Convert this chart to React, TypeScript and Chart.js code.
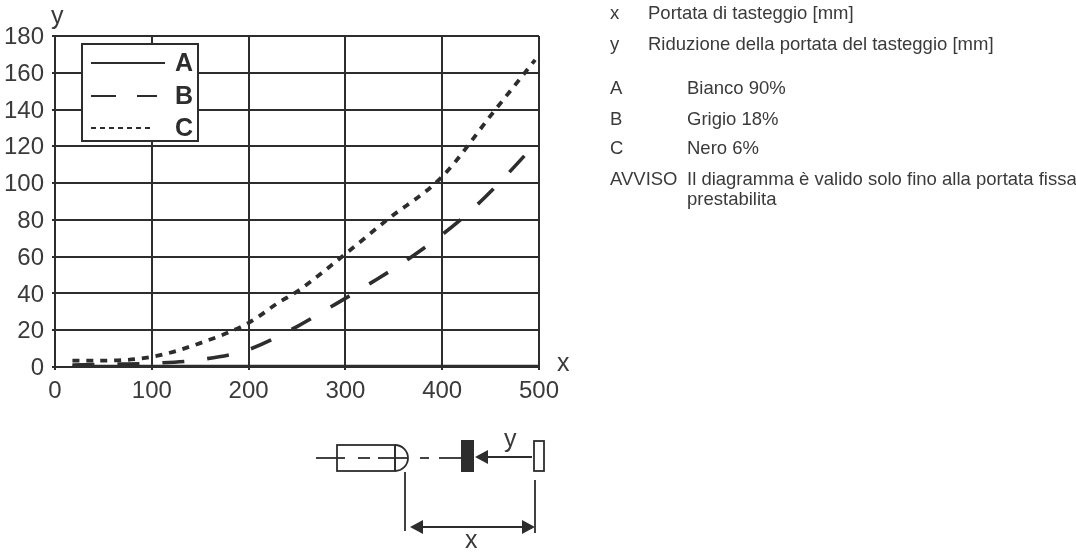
import React, { useEffect, useRef } from "react";
import { Chart, registerables } from "chart.js";

Chart.register(...registerables);

const xA = [18, 100, 200, 300, 400, 500];
const yA = [0.2, 0.2, 0.2, 0.2, 0.2, 0.2];
const xB = [18, 50, 100, 150, 200, 250, 286, 326, 367, 421, 455, 487];
const yB = [1, 1.5, 2, 4, 9.5, 22, 33, 45.6, 59.4, 81, 98, 116];
const xC = [18, 50, 100, 150, 200, 232, 250, 300, 343, 400, 452, 496];
const yC = [3.5, 3.5, 5.5, 13, 24, 35.4, 41, 61.5, 80, 103.5, 138, 167];
const xTicks = [0, 100, 200, 300, 400, 500];
const yTicks = [0, 20, 40, 60, 80, 100, 120, 140, 160, 180];
const seriesNames = ["A", "B", "C"];
const notesTop = [
  ["x", "Portata di tasteggio [mm]"],
  ["y", "Riduzione della portata del tasteggio [mm]"],
];
const notesKey = [
  ["A", "Bianco 90%"],
  ["B", "Grigio 18%"],
  ["C", "Nero 6%"],
  ["AVVISO", "Il diagramma è valido solo fino alla portata fissa"],
  ["", "prestabilita"],
];

const INK = "#2d2d2d";
const TEXT = "#3a3a3a";
const FONT = '"Liberation Sans", Arial, sans-serif';

const pair = (xs: number[], ys: number[]) => xs.map((x, i) => ({ x, y: ys[i] }));

const decor = {
  id: "decor",
  afterDraw(chart: any) {
    const c = chart.ctx as CanvasRenderingContext2D;
    c.save();
    c.lineCap = "butt";
    c.textBaseline = "alphabetic";

    // axis letters
    c.fillStyle = TEXT;
    c.font = `25px ${FONT}`;
    c.textAlign = "left";
    c.fillText("y", 51, 24);
    c.fillText("x", 557, 371);

    // legend box
    c.fillStyle = "#fff";
    c.fillRect(82, 44, 116, 97);
    c.strokeStyle = INK;
    c.lineWidth = 2;
    c.strokeRect(82, 44, 116, 97);
    const rows = [63, 96, 128];
    const dashes = [[], [25, 21, 21, 0], [5, 4]];
    const ends = [165, 157, 153];
    c.lineWidth = 1.8;
    rows.forEach((y, i) => {
      c.beginPath();
      c.setLineDash(dashes[i]);
      c.moveTo(91, y);
      c.lineTo(ends[i], y);
      c.stroke();
    });
    c.setLineDash([]);
    c.fillStyle = INK;
    c.font = `bold 25px ${FONT}`;
    seriesNames.forEach((n, i) => c.fillText(n, 175, rows[i] + 8));

    // notes
    c.fillStyle = TEXT;
    c.font = `18.5px ${FONT}`;
    notesTop.forEach(([k, v], i) => {
      const y = [19, 50][i];
      c.fillText(k, 610, y);
      c.fillText(v, 648, y);
    });
    notesKey.forEach(([k, v], i) => {
      const y = [94, 125, 154, 185, 205][i];
      c.fillText(k, 610, y);
      c.fillText(v, 687, y);
    });

    // sensor sketch
    c.strokeStyle = INK;
    c.fillStyle = INK;
    c.lineWidth = 1.8;
    c.strokeRect(337, 445, 58, 26);
    c.beginPath();
    c.arc(395, 458, 13, -Math.PI / 2, Math.PI / 2);
    c.stroke();
    const seg = (x1: number, y1: number, x2: number, y2: number) => {
      c.beginPath();
      c.moveTo(x1, y1);
      c.lineTo(x2, y2);
      c.stroke();
    };
    [[316, 345], [358, 370], [378, 408], [420, 429], [439, 461]].forEach(([a, b]) => seg(a, 458, b, 458));
    seg(395, 445, 395, 471);
    c.fillRect(461, 440, 13, 32);
    c.strokeRect(534, 441, 10, 30);
    seg(485, 457, 532, 457);
    seg(405, 472, 405, 531);
    seg(535, 480, 535, 533);
    seg(415, 527, 528, 527);
    const head = (tip: number, y: number, dir: number) => {
      c.beginPath();
      c.moveTo(tip, y);
      c.lineTo(tip + dir * 13, y - 7);
      c.lineTo(tip + dir * 13, y + 7);
      c.closePath();
      c.fill();
    };
    head(475, 457, 1);
    head(410, 527, 1);
    head(535, 527, -1);
    c.fillStyle = TEXT;
    c.font = `25px ${FONT}`;
    c.fillText("y", 504, 447);
    c.fillText("x", 465, 548);
    c.restore();
  },
};

export default function App() {
  const ref = useRef<HTMLCanvasElement>(null);
  useEffect(() => {
    document.body.style.margin = "0";
    const chart = new Chart(ref.current!, {
      type: "scatter",
      data: {
        datasets: [
          { label: seriesNames[0], data: pair(xA, yA), showLine: true, pointRadius: 0, borderColor: INK, borderWidth: 4 },
          { label: seriesNames[1], data: pair(xB, yB), showLine: true, pointRadius: 0, borderColor: INK, borderWidth: 3.6, borderDash: [22, 23], cubicInterpolationMode: "monotone" },
          { label: seriesNames[2], data: pair(xC, yC), showLine: true, pointRadius: 0, borderColor: INK, borderWidth: 3.8, borderDash: [7, 6.9], cubicInterpolationMode: "monotone" },
        ],
      } as any,
      options: {
        animation: false,
        responsive: false,
        devicePixelRatio: 1,
        layout: { padding: { top: 36, right: 537, bottom: 145, left: 0 } },
        plugins: { legend: { display: false }, title: { display: false }, tooltip: { enabled: false } },
        scales: {
          x: {
            type: "linear",
            min: 0,
            max: 500,
            afterBuildTicks: (s: any) => { s.ticks = xTicks.map((value) => ({ value })); },
            afterFit: (s: any) => { s.height = 40; },
            ticks: { color: TEXT, font: { family: FONT, size: 24 }, padding: 7, maxRotation: 0 },
            grid: { color: INK, lineWidth: 2, tickLength: 3, drawTicks: true },
            border: { color: INK, width: 2 },
          },
          y: {
            type: "linear",
            min: 0,
            max: 180,
            afterBuildTicks: (s: any) => { s.ticks = yTicks.map((value) => ({ value })); },
            afterFit: (s: any) => { s.width = 55; },
            ticks: { color: TEXT, font: { family: FONT, size: 24 }, padding: 8, labelOffset: 1.5 },
            grid: { color: INK, lineWidth: 2, tickLength: 3, drawTicks: true },
            border: { color: INK, width: 2 },
          },
        },
      },
      plugins: [decor],
    } as any);
    return () => chart.destroy();
  }, []);
  return <canvas ref={ref} width={1076} height={552} style={{ display: "block" }} />;
}
